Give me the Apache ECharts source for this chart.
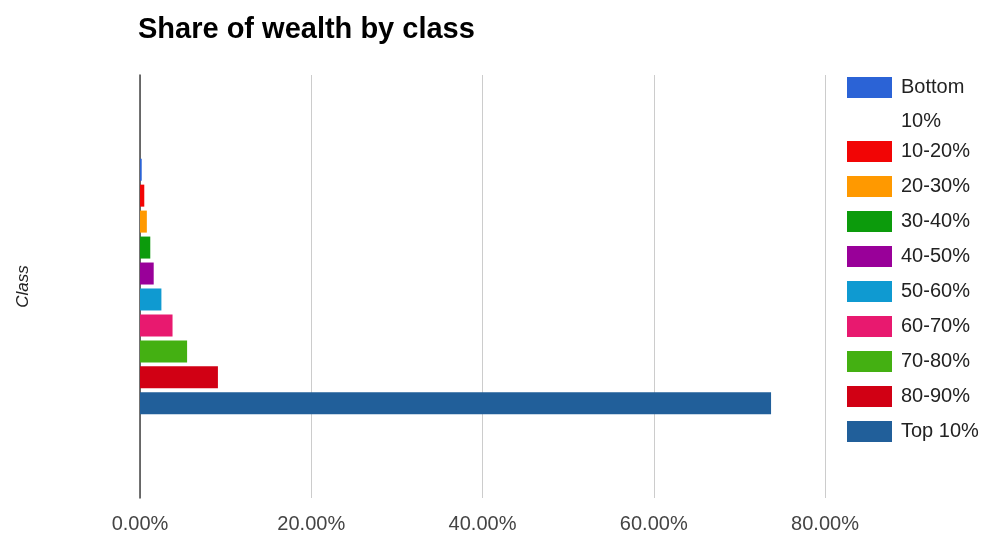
<!DOCTYPE html>
<html>
<head>
<meta charset="utf-8">
<title>Share of wealth by class</title>
<script src="https://cdn.jsdelivr.net/npm/echarts@6/dist/echarts.min.js"></script>
<style>
  html, body { margin: 0; padding: 0; background: #fff; }
  #chart { width: 989px; height: 535px; }
</style>
</head>
<body>
<div id="chart"></div>
<script>
// classes, top to bottom
var classNames = ['Bottom 10%', '10-20%', '20-30%', '30-40%', '40-50%',
                  '50-60%', '60-70%', '70-80%', '80-90%', 'Top 10%'];
// share of wealth, percent
var shares = [0.2, 0.5, 0.8, 1.2, 1.6, 2.5, 3.8, 5.5, 9.1, 73.7];
var classColors = ['#2b63d6', '#f20505', '#ff9900', '#0c9b0c', '#990099',
                   '#0f9ad1', '#e8196f', '#44b012', '#d10014', '#215f9a'];
var xTicks = [0, 20, 40, 60, 80];

var FONT = 'Liberation Sans, Arial, sans-serif';

var chart = echarts.init(document.getElementById('chart'));

// one series per class, so each gets its own legend entry
var series = classNames.map(function (name, i) {
    return {
        name: name,
        type: 'bar',
        data: [shares[i]],
        barWidth: 22,
        barGap: '18%',
        itemStyle: { color: classColors[i] }
    };
});

var legendText = { fontFamily: FONT, fontSize: 20, color: '#222', lineHeight: 21, padding: [0, 0, 0, 4] };

chart.setOption({
    animation: false,
    color: classColors,
    title: {
        text: 'Share of wealth by class',
        left: 133,
        top: 10,
        textStyle: { fontFamily: FONT, fontSize: 29, fontWeight: 'bold', color: '#000' }
    },
    legend: [
        {
            // first entry wraps in the original; second line added below as text
            data: ['Bottom 10%'],
            orient: 'vertical',
            left: 847,
            top: 77,
            padding: 0,
            icon: 'rect',
            itemWidth: 45,
            itemHeight: 21,
            selectedMode: false,
            formatter: function () { return 'Bottom'; },
            textStyle: legendText
        },
        {
            data: classNames.slice(1),
            orient: 'vertical',
            left: 847,
            top: 141,
            padding: 0,
            icon: 'rect',
            itemWidth: 45,
            itemHeight: 21,
            itemGap: 14,
            selectedMode: false,
            textStyle: legendText
        }
    ],
    graphic: [{
        type: 'text',
        left: 901,
        top: 111,
        style: { text: '10%', font: '20px ' + FONT, fill: '#222' }
    }],
    grid: { left: 140, right: 164, top: 75, bottom: 37 },
    xAxis: {
        type: 'value',
        min: xTicks[0],
        max: xTicks[xTicks.length - 1],
        interval: xTicks[1] - xTicks[0],
        axisLine: { show: false },
        axisTick: { show: false },
        splitLine: { lineStyle: { color: '#ccc', width: 1 } },
        axisLabel: {
            margin: 16,
            fontFamily: FONT,
            fontSize: 20,
            color: '#444',
            formatter: function (v) { return v.toFixed(2) + '%'; }
        }
    },
    yAxis: {
        type: 'category',
        data: ['Class'],
        inverse: true,
        name: 'Class',
        nameLocation: 'middle',
        nameRotate: 90,
        nameGap: 108,
        nameTextStyle: { fontFamily: FONT, fontSize: 17, fontStyle: 'italic', color: '#222' },
        axisLine: { lineStyle: { color: '#444', width: 1.5 } },
        axisTick: { show: false },
        axisLabel: { show: false }
    },
    series: series
});
</script>
</body>
</html>
